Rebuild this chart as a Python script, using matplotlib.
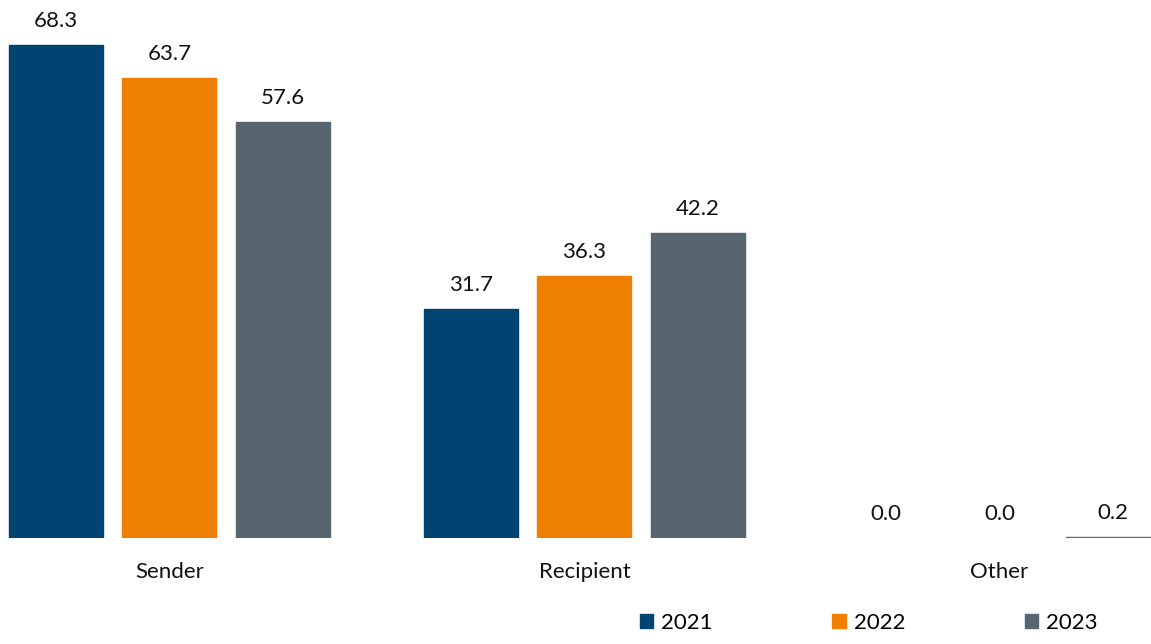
import numpy as np
import matplotlib.pyplot as plt
from matplotlib.patches import Patch

categories = ['Sender', 'Recipient', 'Other']
years = ['2021', '2022', '2023']
values_2021 = [68.3, 31.7, 0.0]
values_2022 = [63.7, 36.3, 0.0]
values_2023 = [57.6, 42.2, 0.2]
colors = ['#004571', '#ee7f00', '#56656e']

plt.rcParams['font.family'] = ['Lato', 'DejaVu Sans']

fig = plt.figure(figsize=(11.51, 6.44), dpi=100)
ax = fig.add_axes([0, 106 / 644, 1, 538 / 644])

x = np.arange(len(categories))
step = 0.2735
width = 0.2265
series = [values_2021, values_2022, values_2023]
for i, (vals, col) in enumerate(zip(series, colors)):
    pos = x + (i - 1) * step
    bars = ax.bar(pos, [v if v > 0 else np.nan for v in vals], width,
                  color=col, edgecolor=col, linewidth=1.0)
    for p, v in zip(pos, vals):
        ax.annotate(f'{v:.1f}', (p, v),
                    xytext=(0, 10), textcoords='offset points',
                    ha='center', va='bottom', fontsize=16, color='#111111')

ax.set_xlim(-0.408, 2.365)
ax.set_ylim(0, 538 / 7.22)
ax.set_xticks(x)
ax.set_xticklabels(categories, fontsize=16, color='#111111')
ax.tick_params(axis='x', length=0, pad=17)
ax.set_yticks([])
for s in ax.spines.values():
    s.set_visible(False)

handles = [Patch(color=c, label=y) for c, y in zip(colors, years)]
fig.legend(handles=handles, loc='lower right', bbox_to_anchor=(0.971, -0.014),
           ncol=3, frameon=False, fontsize=16, handlelength=0.6,
           handleheight=0.6, handletextpad=0.35, columnspacing=5.4)

fig.savefig('out.png', dpi=100)
